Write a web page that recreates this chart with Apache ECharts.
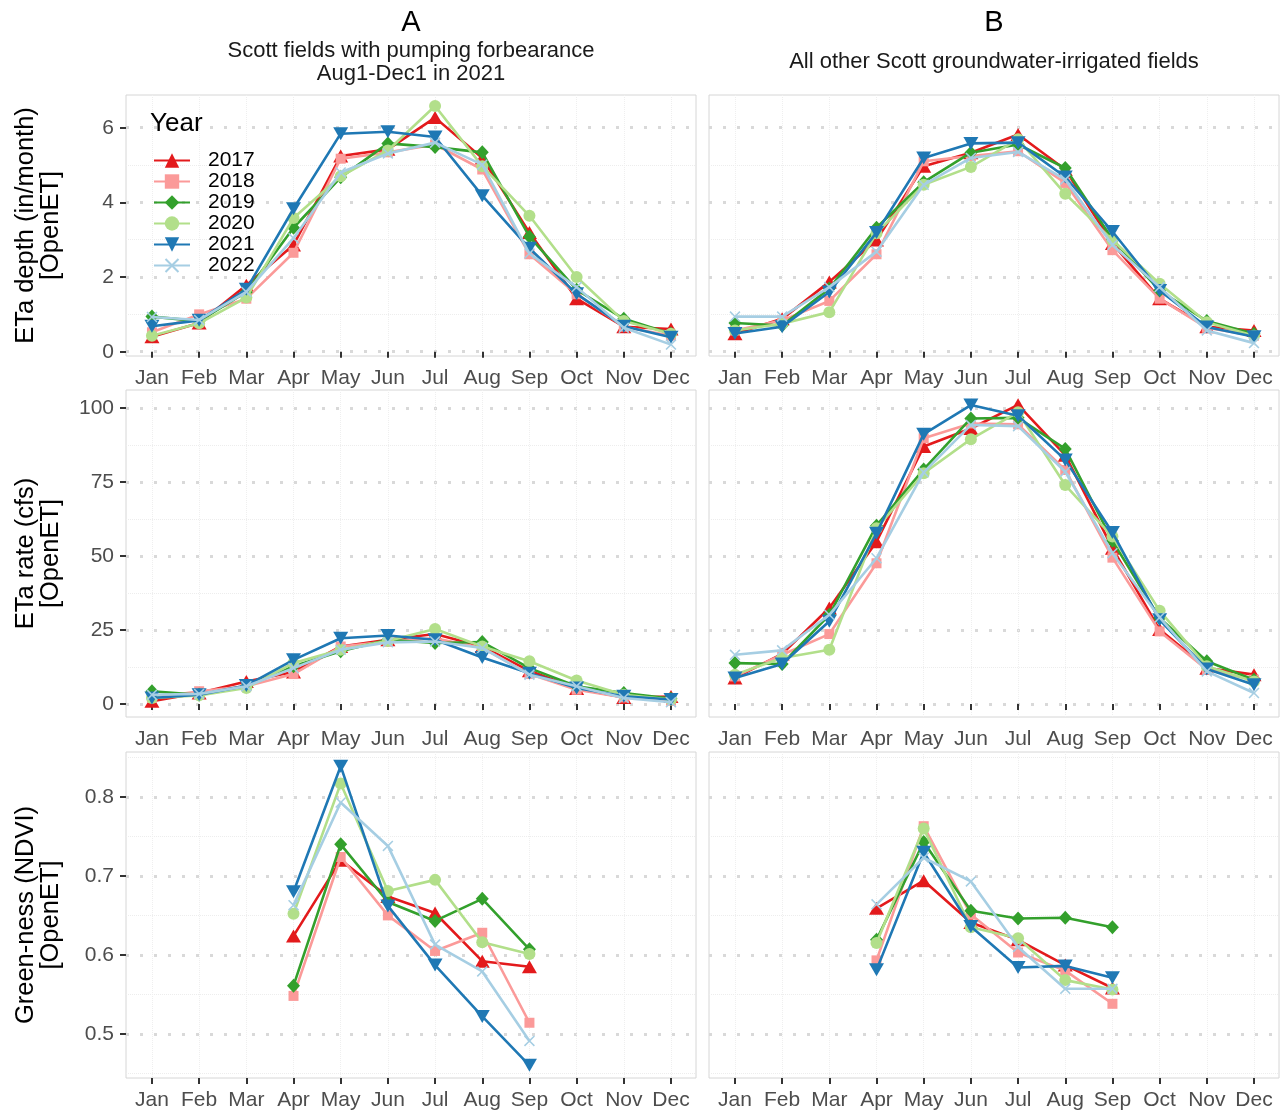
<!DOCTYPE html>
<html>
<head>
<meta charset="utf-8">
<script src="https://cdn.jsdelivr.net/npm/echarts@6/dist/echarts.min.js"></script>
<style>
html,body{margin:0;padding:0;background:#fff;}
#chart{width:1283px;height:1111px;}
</style>
</head>
<body>
<div id="chart"></div>
<script>
// ---------------- data ----------------
const months = ['Jan','Feb','Mar','Apr','May','Jun','Jul','Aug','Sep','Oct','Nov','Dec'];
const years = ['2017','2018','2019','2020','2021','2022'];

// ETa depth (in/month), panel A (forbearance fields), rows = years
const depthA = [
  [0.40,0.77,1.78,2.86,5.24,5.42,6.27,5.19,3.19,1.42,0.67,0.61],
  [0.52,1.00,1.42,2.65,5.17,5.34,5.55,4.88,2.61,1.54,0.67,0.43],
  [0.94,0.82,1.60,3.32,4.67,5.58,5.48,5.34,3.08,1.66,0.88,0.48],
  [0.43,0.76,1.45,3.58,4.70,5.39,6.58,4.97,3.64,2.00,0.82,0.48],
  [0.68,0.84,1.67,3.83,5.84,5.89,5.75,4.18,2.77,1.55,0.68,0.39],
  [0.93,0.85,1.60,3.04,4.80,5.31,5.60,5.01,2.63,1.73,0.64,0.19]
];
// ETa depth (in/month), panel B (all other fields)
const depthB = [
  [0.48,0.88,1.87,2.99,4.97,5.33,5.82,4.88,2.90,1.42,0.67,0.57],
  [0.57,0.84,1.36,2.61,5.10,5.24,5.37,4.52,2.72,1.42,0.64,0.43],
  [0.77,0.70,1.69,3.32,4.54,5.33,5.55,4.92,3.01,1.64,0.82,0.48],
  [0.57,0.75,1.06,3.17,4.47,4.95,5.69,4.23,2.99,1.82,0.79,0.43],
  [0.49,0.67,1.60,3.19,5.19,5.58,5.60,4.68,3.22,1.64,0.66,0.40],
  [0.94,0.94,1.73,2.68,4.47,5.19,5.35,4.61,2.86,1.73,0.57,0.23]
];
// ETa rate (cfs), panel A
const rateA = [
  [0.9,3.7,7.6,10.8,19.4,21.7,23.6,19.4,11.2,5.2,2.2,2.5],
  [2.0,4.3,6.0,10.1,19.4,21.1,22.2,18.9,10.1,4.8,2.2,1.1],
  [4.3,3.1,6.0,12.7,17.8,21.7,20.6,20.9,12.1,6.0,3.7,1.8],
  [2.0,2.9,5.4,13.8,18.3,21.3,25.3,19.4,14.4,7.9,3.1,1.5],
  [2.0,3.1,6.2,14.9,22.2,23.1,21.7,15.7,10.4,5.4,2.6,1.5],
  [3.1,3.4,6.0,12.1,18.3,20.8,21.1,18.9,9.9,6.0,2.0,0.6]
];
// ETa rate (cfs), panel B
const rateB = [
  [8.8,16.9,32.4,54.8,86.9,93.0,101.0,84.0,52.6,25.1,12.1,9.9],
  [9.3,16.6,23.6,47.5,89.7,94.7,94.4,79.0,49.4,24.5,11.6,8.2],
  [13.8,13.5,30.1,60.2,79.2,96.4,96.6,86.1,55.1,29.0,14.4,8.2],
  [9.9,15.5,18.3,59.3,77.9,89.4,98.5,73.9,56.5,31.5,12.7,7.6],
  [8.8,13.5,27.9,57.6,91.1,100.9,97.3,82.4,57.9,28.4,11.8,6.5],
  [16.6,18.1,30.1,49.2,78.2,94.2,93.8,78.4,50.9,29.2,11.0,3.7]
];
// Green-ness (NDVI), panel A
const ndviA = [
  [null,null,null,0.624,0.720,0.674,0.653,0.592,0.585,null,null,null],
  [null,null,null,0.548,0.724,0.650,0.605,0.628,0.514,null,null,null],
  [null,null,null,0.561,0.740,0.667,0.643,0.671,0.607,null,null,null],
  [null,null,null,0.652,0.817,0.681,0.695,0.616,0.601,null,null,null],
  [null,null,null,0.680,0.839,0.662,0.587,0.522,0.460,null,null,null],
  [null,null,null,0.663,0.793,0.738,0.613,0.579,0.491,null,null,null]
];
// Green-ness (NDVI), panel B
const ndviB = [
  [null,null,null,0.659,0.694,0.641,0.619,0.587,0.558,null,null,null],
  [null,null,null,0.593,0.763,0.651,0.603,0.580,0.538,null,null,null],
  [null,null,null,0.619,0.743,0.656,0.646,0.647,0.635,null,null,null],
  [null,null,null,0.615,0.760,0.635,0.621,0.568,0.556,null,null,null],
  [null,null,null,0.581,0.730,0.636,0.584,0.586,0.571,null,null,null],
  [null,null,null,0.664,0.723,0.693,0.610,0.557,0.557,null,null,null]
];

// tick labels
const depthTicks = [0,2,4,6];
const depthMinor = [1,3,5];
const rateTicks = [0,25,50,75,100];
const rateMinor = [12.5,37.5,62.5,87.5];
const ndviTicks = [0.5,0.6,0.7,0.8];
const ndviMinor = [0.45,0.55,0.65,0.75,0.85];

const colTitles = ['A','B'];
const colSubtitles = ['Scott fields with pumping forbearance\nAug1-Dec1 in 2021','All other Scott groundwater-irrigated fields'];
const rowTitles = ['ETa depth (in/month)\n[OpenET]','ETa rate (cfs)\n[OpenET]','Green-ness (NDVI)\n[OpenET]'];

// ---------------- styling / layout ----------------
const colors = ['#e31a1c','#fb9a99','#33a02c','#b2df8a','#1f78b4','#a6cee3'];
const symbols = [
  'triangle',
  'rect',
  'diamond',
  'circle',
  'path://M0,0 L10,0 L5,8.66 Z',
  'path://M0,1 L1,0 L5,4 L9,0 L10,1 L6,5 L10,9 L9,10 L5,6 L1,10 L0,9 L4,5 Z'
];
const symbolSizes = [[15,13],10,[13,14],12,[15,13],11];
const FONT = '"Liberation Sans", Arial, sans-serif';

const cols = [{left:126,width:570},{left:709,width:570}];
const rows = [
  {top:95, height:261, min:-0.115, max:6.876, ticks:depthTicks, minor:depthMinor, data:[depthA,depthB]},
  {top:390,height:327, min:-4.4,  max:106.0, ticks:rateTicks,  minor:rateMinor,  data:[rateA,rateB]},
  {top:752,height:326, min:0.444, max:0.857, ticks:ndviTicks,  minor:ndviMinor,  data:[ndviA,ndviB]}
];
const monthIdx = months.map((m,i)=>i+1);

const grids=[], xAxes=[], yAxes=[], series=[];
rows.forEach((r,ri)=>{
  cols.forEach((c,ci)=>{
    const p = ri*2+ci;
    grids.push({left:c.left, top:r.top, width:c.width, height:r.height,
      show:true, backgroundColor:'#ffffff', borderColor:'#d6d6d6', borderWidth:1, containLabel:false});
    xAxes.push({type:'value', gridIndex:p, min:0.45, max:12.53,
      axisLine:{show:false},
      axisTick:{show:true, customValues:monthIdx, length:6, lineStyle:{color:'#333333', width:2}},
      axisLabel:{customValues:monthIdx, formatter:(v)=>months[Math.round(v)-1]||'', fontSize:21, color:'#4d4d4d', fontFamily:FONT, margin:12},
      splitLine:{show:true, lineStyle:{color:'#efefef', width:1, type:'dotted'}}
    });
    yAxes.push({type:'value', gridIndex:p, min:r.min, max:r.max,
      axisLine:{show:false},
      axisTick:{show:ci===0, customValues:r.ticks, length:6, lineStyle:{color:'#333333', width:2}},
      axisLabel:{show:ci===0, customValues:r.ticks, fontSize:21, color:'#4d4d4d', fontFamily:FONT, margin:12},
      splitLine:{show:true, lineStyle:{color:'#d9d9d9', width:3, type:[3,11]}}
    });
    yAxes.push({type:'value', gridIndex:p, min:r.min, max:r.max, position:'left',
      axisLine:{show:false}, axisLabel:{show:false},
      axisTick:{show:false, customValues:r.minor},
      splitLine:{show:true, lineStyle:{color:'#ededed', width:1, type:'dotted'}}
    });
    years.forEach((yr,yi)=>{
      const vals = r.data[ci][yi];
      const d = vals.map((v,i)=> v==null ? null : [i+1, v]).filter(Boolean);
      series.push({
        name:yr, type:'line', xAxisIndex:p, yAxisIndex:p*2, data:d,
        symbol:symbols[yi], symbolSize:symbolSizes[yi], showSymbol:true,
        lineStyle:{color:colors[yi], width:2.6},
        itemStyle:{color:colors[yi], borderWidth:0},
        emphasis:{disabled:true}, silent:true, z:2+yi
      });
    });
  });
});

const graphics = [];
cols.forEach((c,ci)=>{
  const cx = c.left + c.width/2;
  graphics.push({type:'text', x:cx, y:23, z:100, style:{text:colTitles[ci], font:'29px '+FONT, fill:'#000', align:'center', verticalAlign:'middle'}});
  graphics.push({type:'text', x:cx, y:62, z:100, style:{text:colSubtitles[ci], font:'22px '+FONT, fill:'#1a1a1a', align:'center', verticalAlign:'middle', lineHeight:23}});
});
rows.forEach((r,ri)=>{
  graphics.push({type:'text', x:38, y:r.top + r.height/2, rotation:Math.PI/2, z:100,
    style:{text:rowTitles[ri], font:'25.5px '+FONT, fill:'#000', align:'center', verticalAlign:'middle', lineHeight:25}});
});
graphics.push({type:'text', x:150, y:124, z:100, style:{text:'Year', font:'26px '+FONT, fill:'#000', align:'left', verticalAlign:'middle'}});

const chart = echarts.init(document.getElementById('chart'), null, {renderer:'canvas'});
chart.setOption({
  animation:false,
  backgroundColor:'#ffffff',
  textStyle:{fontFamily:FONT},
  grid:grids, xAxis:xAxes, yAxis:yAxes, series:series,
  legend:{data:years, orient:'vertical', left:153, top:150, padding:0, itemGap:0, z:50,
    itemWidth:36, itemHeight:18, selectedMode:false,
    textStyle:{fontSize:21, color:'#000', fontFamily:FONT, lineHeight:21, padding:[0,0,0,13]}},
  graphic:graphics
});
</script>
</body>
</html>
